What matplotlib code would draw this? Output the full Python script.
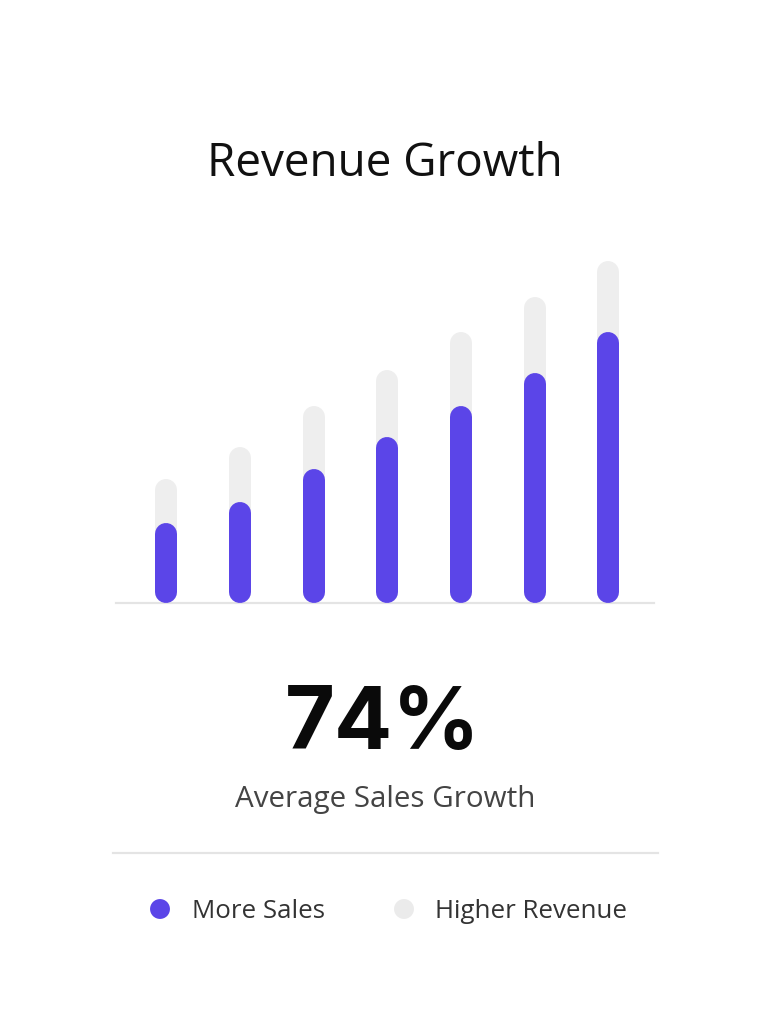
import matplotlib.pyplot as plt
from matplotlib.lines import Line2D

# data (roughly pixel units above baseline)
periods = ['P1', 'P2', 'P3', 'P4', 'P5', 'P6', 'P7']
more_sales = [80, 101, 134, 166, 197, 230, 271]
higher_revenue = [124, 156, 197, 233, 271, 306, 342]
headline = '74%'
headline_label = 'Average Sales Growth'
legend_labels = ['More Sales', 'Higher Revenue']

purple = '#5b45e8'
light = '#eeeeee'
W, H = 770, 1024

plt.rcParams['font.family'] = ['Open Sans', 'DejaVu Sans']

fig = plt.figure(figsize=(W / 100, H / 100), dpi=100)
fig.patch.set_facecolor('white')

# bar chart axes: spans 116..654 px horizontally, baseline at 603 px
ax = fig.add_axes([116 / W, (H - 603) / H, (654 - 116) / W, 353 / H])
ax.set_xlim(-0.68, 6.62)
ax.set_ylim(0, 353)
ax.axis('off')

bw = 22  # bar width in px
lw = bw * 72 / 100
r = bw / 2
xs = range(len(periods))
for x, hv, sv in zip(xs, higher_revenue, more_sales):
    ax.plot([x, x], [r, hv - r], color=light, lw=lw, solid_capstyle='round', zorder=1)
    ax.plot([x, x], [r, sv - r], color=purple, lw=lw, solid_capstyle='round', zorder=2)
ax.axhline(0, color='#e4e4e4', lw=1.6, zorder=0, clip_on=False)

fig.text(385 / W, 1 - 164 / H, 'Revenue Growth', ha='center', va='center',
         fontsize=33, color='#111111')
fig.text(383 / W, 1 - 727 / H, headline, ha='center', va='center',
         fontsize=62, fontweight='bold', color='#0a0a0a',
         family=['Inter', 'Open Sans', 'DejaVu Sans'])
fig.text(385 / W, 1 - 799 / H, headline_label, ha='center', va='center',
         fontsize=21.3, color='#444444')

# separator
fig.add_artist(Line2D([113 / W, 658 / W], [1 - 853 / H, 1 - 853 / H],
                      color='#e4e4e4', lw=1.6))

# legend
lg = fig.add_axes([0, 0, 1, 1], facecolor='none')
lg.set_xlim(0, W)
lg.set_ylim(H, 0)
lg.axis('off')
lg.scatter([160, 404], [909, 909], s=205, color=[purple, '#ebebeb'], lw=0)
fig.text(192 / W, 1 - 912 / H, legend_labels[0], ha='left', va='center',
         fontsize=18.6, color='#333333')
fig.text(435 / W, 1 - 912 / H, legend_labels[1], ha='left', va='center',
         fontsize=18.6, color='#333333')

fig.savefig('out.png', dpi=100)
